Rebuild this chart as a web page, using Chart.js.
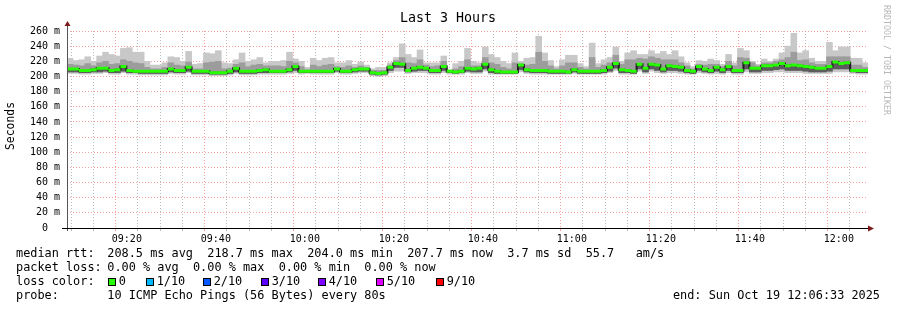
<!DOCTYPE html>
<html><head><meta charset="utf-8">
<script src="https://cdn.jsdelivr.net/npm/chart.js@4"></script>
<style>html,body{margin:0;padding:0;background:#fff}#wrap{width:897px;height:310px;position:relative}</style>
</head><body><div id="wrap"><canvas id="c"></canvas></div>
<script>
const chartTitle = 'Last 3 Hours';
const yAxisTitle = 'Seconds';
const watermark = 'RRDTOOL / TOBI OETIKER';
const startClock = '09:06:33';
const stepSeconds = 80;

// smoke envelope (ms) per 80 s step
const rttTop = [224,221,222,226,220,227,232,229,227,237,238,232,232,220,215,215,218,226,225,220,233,216,217,231,230,234,218,217,222,231,220,222,225,218,
220,220,221,232,223,220,212,224,221,224,225,218,218,221,216,219,215,210,212,212,218,225,243,229,225,235,218,218,218,227,209,217,220,237,
220,218,239,229,225,220,217,231,220,224,225,253,231,221,213,222,228,228,217,213,244,217,222,225,239,220,231,234,229,229,234,230,233,229,
234,226,218,213,221,220,223,221,216,229,218,237,234,220,216,223,220,223,231,240,257,231,234,224,220,220,245,234,239,239,224,224,218];
const rttUpper = [216,215,214,217,214,218,220,216,217,222,220,218,217,212,210,210,212,218,215,214,219,210,210,218,219,220,210,211,216,218,213,215,216,214,
214,214,213,220,218,213,209,215,213,215,216,213,212,214,212,214,212,208,208,208,215,221,225,218,217,222,215,213,214,220,208,210,213,222,
214,214,225,218,216,212,210,218,217,215,216,232,220,214,210,214,218,218,212,210,225,212,215,218,228,216,222,222,224,223,226,224,222,222,
222,218,214,210,216,215,216,216,213,220,214,225,224,218,214,218,218,220,222,225,232,221,222,218,216,216,226,226,226,226,215,215,212];
const rttMedian = [210,210,208,208,209,211,211,208,209,213,208,207,207,207,207,207,207,210,208,208,212,207,207,207,205,205,205,207,211,207,207,207,208,209,
207,207,207,209,213,207,207,207,207,207,207,210,207,207,209,210,210,205,204,205,212,217,216,208,211,212,211,208,208,213,207,206,207,211,
210,211,216,209,207,206,206,206,215,209,208,208,208,207,207,207,206,209,207,207,207,207,208,212,217,209,208,207,216,211,216,215,210,214,
213,212,208,207,213,210,208,212,209,213,208,208,218,211,211,214,214,215,217,214,215,214,213,212,211,211,213,219,217,218,208,208,208];
const rttLower = [206,206,205,205,206,206,207,205,205,207,205,205,204,204,204,204,204,206,205,205,207,204,204,204,203,203,203,204,206,204,204,204,205,205,
205,205,205,206,208,205,205,205,205,205,205,207,205,205,206,207,207,203,202,203,208,212,212,206,207,208,208,205,205,208,205,204,205,207,
206,206,210,205,204,204,204,204,209,206,205,205,205,204,204,204,204,206,204,204,204,204,205,207,211,205,205,204,210,206,210,208,206,208,
208,207,205,204,208,206,205,207,205,208,205,205,210,206,206,208,208,209,210,208,208,208,207,206,206,206,207,210,210,210,206,205,205];
const rttBottom = [204,204,203,203,204,204,205,203,203,205,203,203,202,202,202,202,202,204,203,203,205,202,202,202,201,201,201,202,204,202,202,202,203,203,
203,203,203,204,205,203,204,203,203,203,203,205,203,203,204,205,205,201,200,201,205,207,207,204,205,205,205,203,203,205,203,203,203,205,
204,204,207,203,203,203,203,203,206,204,203,203,203,203,203,203,203,204,203,203,203,203,203,205,208,203,203,203,207,204,207,205,204,205,
205,204,203,203,205,204,203,204,203,205,203,203,206,204,204,205,205,206,206,205,205,205,204,204,204,204,204,206,206,206,204,203,203];

const timeTickLabels = ['09:20','09:40','10:00','10:20','10:40','11:00','11:20','11:40','12:00'];
const yTickValues = [0,20,40,60,80,100,120,140,160,180,200,220,240,260];
const yTickLabels = ['0  ','20 m','40 m','60 m','80 m','100 m','120 m','140 m','160 m','180 m','200 m','220 m','240 m','260 m'];

const medianStats = '208.5 ms avg  218.7 ms max  204.0 ms min  207.7 ms now  3.7 ms sd  55.7   am/s';
const lossStats = '0.00 % avg  0.00 % max  0.00 % min  0.00 % now';
const lossLabels = ['0','1/10','2/10','3/10','4/10','5/10','9/10'];
const lossColors = ['#26ff00','#00b8ff','#0059ff','#5e00ff','#7e00ff','#dd00ff','#ff0000'];
const probeText = '10 ICMP Echo Pings (56 Bytes) every 80s';
const endText = 'end: Sun Oct 19 12:06:33 2025';

// layout constants
const lossBoxX = [108,146,203,261,318,376,436];

const [sh, sm, ss] = startClock.split(':').map(Number);
const t0 = sh*3600 + sm*60 + ss;
const tEnd = t0 + rttTop.length * stepSeconds;
const centerT = i => t0 + stepSeconds * (i + 0.5);
const startT = i => t0 + stepSeconds * i;
const fmt = v => { const m = Math.round(v/60); const h = Math.floor(m/60); const mm = m%60; return String(h).padStart(2,'0')+':'+String(mm).padStart(2,'0'); };
const isMajorX = c => !!(c && c.tick) && Math.round(c.tick.value/60) % 20 === 0;
const isMajorY = c => !!(c && c.tick) && c.tick.value % 20 === 0;

// stepped median (dark connectors) and separate green segments per step
const medianPts = rttMedian.map((m,i)=>({x:startT(i), y:m}));
medianPts.push({x:tEnd, y:rttMedian[rttMedian.length-1]});
const medianSegs = [];
rttMedian.forEach((m,i)=>{ medianSegs.push({x:startT(i), y:m}, {x:startT(i+1), y:m}, {x:startT(i+1)+1, y:null}); });

const MONO = "'DejaVu Sans Mono', monospace";
const PINK = 'rgba(240,120,120,0.7)';
const GREY = 'rgba(160,160,160,0.7)';

const deco = {
  id:'deco',
  afterDraw(chart){
    const ctx = chart.ctx, a = chart.chartArea;
    ctx.save();
    ctx.lineWidth = 1;
    ctx.strokeStyle = '#555';
    ctx.beginPath(); ctx.moveTo(a.left+0.5, a.bottom+3); ctx.lineTo(a.left+0.5, a.top-6); ctx.stroke();
    ctx.strokeStyle = '#000';
    ctx.beginPath(); ctx.moveTo(a.left-5, a.bottom+0.5); ctx.lineTo(a.right+1, a.bottom+0.5); ctx.stroke();
    ctx.fillStyle = '#7a1a1a';
    ctx.beginPath(); ctx.moveTo(a.left-2.5, a.top-5); ctx.lineTo(a.left+3.5, a.top-5); ctx.lineTo(a.left+0.5, a.top-10); ctx.closePath(); ctx.fill();
    ctx.beginPath(); ctx.moveTo(a.right, a.bottom-2.5); ctx.lineTo(a.right, a.bottom+3.5); ctx.lineTo(a.right+6, a.bottom+0.5); ctx.closePath(); ctx.fill();
    ctx.fillStyle = '#000';
    ctx.font = '13.3px ' + MONO;
    ctx.textAlign = 'center'; ctx.textBaseline = 'middle';
    ctx.fillText(chartTitle, 448, 19);
    ctx.save();
    ctx.font = '11.4px ' + MONO;
    ctx.translate(11, 126);
    ctx.rotate(-Math.PI/2);
    ctx.fillText(yAxisTitle, 0, 0);
    ctx.restore();
    ctx.save();
    ctx.font = '8.3px ' + MONO;
    ctx.fillStyle = '#b8b8b8';
    ctx.translate(886, 5);
    ctx.rotate(Math.PI/2);
    ctx.textAlign = 'left';
    ctx.fillText(watermark, 0, 0);
    ctx.restore();
    ctx.font = '11.86px ' + MONO;
    ctx.fillStyle = '#000';
    ctx.textAlign = 'left'; ctx.textBaseline = 'middle';
    const col2 = 107.3;
    ctx.fillText('median rtt:', 16, 254); ctx.fillText(medianStats, col2, 254);
    ctx.fillText('packet loss:', 16, 268); ctx.fillText(lossStats, col2, 268);
    ctx.fillText('loss color:', 16, 282);
    lossLabels.forEach((lab,i)=>{
      const x = lossBoxX[i];
      ctx.fillStyle = lossColors[i];
      ctx.fillRect(x+0.5, 278.5, 7, 7);
      ctx.strokeStyle = '#000';
      ctx.strokeRect(x+0.5, 278.5, 7, 7);
      ctx.fillStyle = '#000';
      ctx.fillText(lab, x+10.7, 282);
    });
    ctx.fillText('probe:', 16, 296); ctx.fillText(probeText, col2, 296);
    ctx.textAlign = 'right';
    ctx.fillText(endText, 880, 296);
    ctx.restore();
  }
};

const barOpts = {type:'bar', grouped:false, barPercentage:1, categoryPercentage:1};

new Chart(document.getElementById('c'), {
  type:'bar',
  data:{
    datasets:[
      {type:'line', data: medianSegs, borderColor:'#26ff00', borderWidth:3, spanGaps:false, pointRadius:0, borderCapStyle:'butt', order:0},
      {type:'line', data: medianPts, borderColor:'#1e1e1e', borderWidth:2, stepped:true, pointRadius:0, order:1},
      {...barOpts, data: rttLower.map((v,i)=>({x:centerT(i), y:[v, rttMedian[i]]})), backgroundColor:'#5c5c5c', order:2},
      {...barOpts, data: rttLower.map((v,i)=>({x:centerT(i), y:[v, rttUpper[i]]})), backgroundColor:'#9c9c9c', order:3},
      {...barOpts, data: rttBottom.map((v,i)=>({x:centerT(i), y:[v, rttTop[i]]})), backgroundColor:'#c8c8c8', order:4}
    ]
  },
  options:{
    responsive:true, maintainAspectRatio:false, animation:false,
    layout:{padding:{left:0, right:29, top:31, bottom:62}},
    plugins:{legend:{display:false}, tooltip:{enabled:false}, title:{display:false}},
    scales:{
      x:{
        type:'linear', min:t0, max:tEnd, offset:false, z:1,
        afterBuildTicks(s){
          const ticks=[]; for(let v=Math.ceil(t0/300)*300; v<=tEnd; v+=300) ticks.push({value:v});
          s.ticks = ticks;
        },
        afterFit(s){ s.height = 20; },
        ticks:{autoSkip:false, maxRotation:0, padding:2, color:'#000', font:{family:MONO, size:10},
          callback(v){ const l = fmt(v); return timeTickLabels.includes(l) ? l : ''; }},
        grid:{color:c=>isMajorX(c)?PINK:GREY, lineWidth:1, drawTicks:true, tickLength:3,
          tickColor:c=>isMajorX(c)?PINK:GREY},
        border:{display:false, dash:[1,2]}
      },
      y:{
        min:0, max:260, z:1,
        afterBuildTicks(s){ const t=[]; for(let v=0; v<=260; v+=10) t.push({value:v}); s.ticks=t; },
        afterFit(s){ s.width = 67; },
        ticks:{padding:7, color:'#000', font:{family:MONO, size:10},
          callback(v){ const k = yTickValues.indexOf(v); return k>=0 ? yTickLabels[k] : ''; }},
        grid:{color:c=>isMajorY(c)?PINK:GREY, lineWidth:1, drawTicks:false},
        border:{display:false, dash:[1,2]}
      }
    }
  },
  plugins:[deco]
});
</script></body></html>
